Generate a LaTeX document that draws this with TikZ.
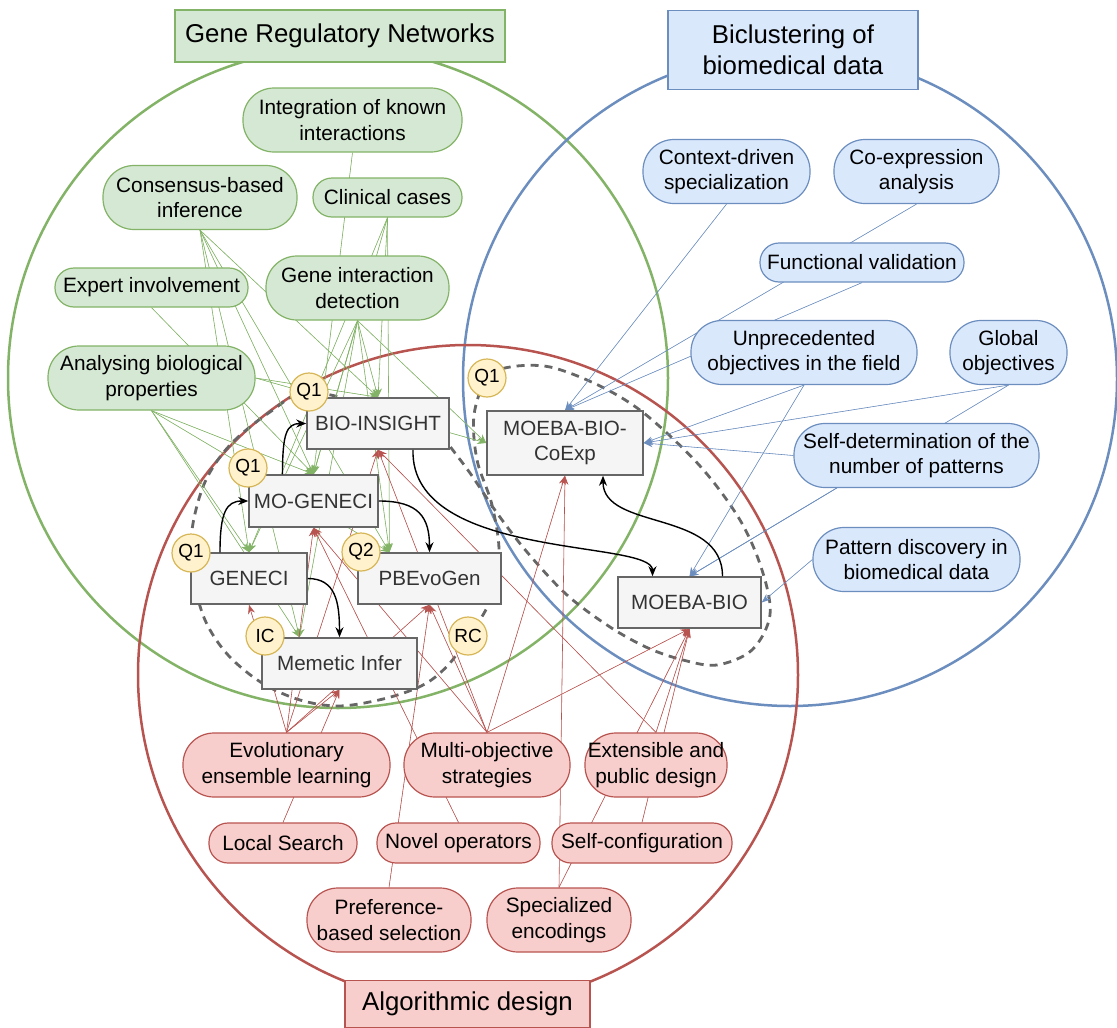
\documentclass[tikz,border=0pt]{standalone}
\usepackage{fontspec}
\setmainfont{Liberation Sans}
\usetikzlibrary{arrows.meta,calc}
\definecolor{gfill}{HTML}{D5E8D4}\definecolor{gline}{HTML}{82B366}
\definecolor{bfill}{HTML}{DAE8FC}\definecolor{bline}{HTML}{6C8EBF}
\definecolor{rfill}{HTML}{F8CECC}\definecolor{rline}{HTML}{B85450}
\definecolor{yfill}{HTML}{FFF2CC}\definecolor{yline}{HTML}{D6B656}
\definecolor{kfill}{HTML}{F5F5F5}\definecolor{kline}{HTML}{666666}\definecolor{ktext}{HTML}{333333}
\pgfdeclarelayer{bg}\pgfdeclarelayer{edges}\pgfsetlayers{bg,edges,main}
\begin{document}
\begin{tikzpicture}[x=1pt,y=-1pt,
 pill/.style={draw, line width=1.2pt, align=center, inner sep=0pt, font=\fontsize{20.8}{25.5}\selectfont, text=black},
 gp/.style={pill, fill=gfill, draw=gline},
 bp/.style={pill, fill=bfill, draw=bline},
 rp/.style={pill, fill=rfill, draw=rline},
 tall/.style={rounded corners=31pt, minimum height=64pt},
 short/.style={rounded corners=19pt, minimum height=40pt},
 box/.style={draw=kline, fill=kfill, line width=1.5pt, text=ktext, inner sep=0pt, font=\fontsize{20.6}{25.5}\selectfont, align=center},
 titlebox/.style={line width=1.5pt, inner sep=0pt, align=center, font=\fontsize{25.8}{31.5}\selectfont},
 qc/.style={circle, draw=yline, fill=yfill, line width=1.2pt, minimum size=38pt, inner sep=0pt, font=\fontsize{19}{22}\selectfont},
 tip/.style={-{Stealth[length=9pt,width=7pt]}},
 ge/.style={tip, draw=gline, fill=gline, line width=0.6pt},
 be/.style={tip, draw=bline, fill=bline, line width=0.6pt},
 re/.style={tip, draw=rline, fill=rline, line width=0.6pt},
 ke/.style={-{Stealth[length=10pt,width=8pt]}, draw=black, line width=1.4pt},
 bigc/.style={line width=2.5pt}
]
\useasboundingbox (0,0) rectangle (1117,1028);

% ---------- big circles ----------
\begin{pgfonlayer}{bg}
\draw[bigc, gline] (338,378) circle[radius=330];
\draw[bigc, bline] (790,379) circle[radius=327];
\draw[bigc, rline] (468,675) circle[radius=330];
\end{pgfonlayer}

% ---------- titles ----------
\node[titlebox, draw=gline, fill=gfill, minimum width=330pt, minimum height=52pt] (TGRN) at (340,36) {Gene Regulatory Networks};
\node[titlebox, draw=bline, fill=bfill, minimum width=250pt, minimum height=79pt] (TBIC) at (793,50) {Biclustering of\\biomedical data};
\node[titlebox, draw=rline, fill=rfill, minimum width=245pt, minimum height=47pt] (TALG) at (467.5,1004) {Algorithmic design};

% ---------- green pills ----------
\node[gp, tall, minimum width=219pt] (INT) at (352.5,120) {Integration of known\\interactions};
\node[gp, tall, minimum width=194pt] (CON) at (200,197.5) {Consensus-based\\inference};
\node[gp, short, minimum width=149pt, minimum height=39pt] (CLI) at (387.5,197.5) {Clinical cases};
\node[gp, short, minimum width=193pt, minimum height=39pt] (EXP) at (151.5,287.5) {Expert involvement};
\node[gp, tall, minimum width=183pt] (GID) at (357.5,288) {Gene interaction\\detection};
\node[gp, tall, minimum width=207pt] (ABP) at (151.5,378) {Analysing biological\\properties};

% ---------- blue pills ----------
\node[bp, tall, minimum width=167pt] (CDS) at (726.5,171.5) {Context-driven\\specialization};
\node[bp, tall, minimum width=165pt] (COA) at (916.5,171.5) {Co-expression\\analysis};
\node[bp, short, minimum width=204pt, minimum height=39pt] (FV) at (862,262.5) {Functional validation};
\node[bp, tall, minimum width=226pt] (UO) at (804,352.5) {Unprecedented\\objectives in the field};
\node[bp, tall, minimum width=117pt] (GO) at (1008.5,352.5) {Global\\objectives};
\node[bp, tall, minimum width=245pt] (SD) at (916.5,455.5) {Self-determination of the\\number of patterns};
\node[bp, tall, minimum width=207pt] (PD) at (916.5,559.5) {Pattern discovery in\\biomedical data};

% ---------- red pills ----------
\node[rp, tall, minimum width=207pt] (EEL) at (286.5,765) {Evolutionary\\ensemble learning};
\node[rp, tall, minimum width=166pt] (MOS) at (487,765) {Multi-objective\\strategies};
\node[rp, tall, minimum width=142pt] (EPD) at (656,765) {Extensible and\\public design};
\node[rp, short, minimum width=148pt] (LS) at (283,843) {Local Search};
\node[rp, short, minimum width=163pt] (NO) at (458.5,843) {Novel operators};
\node[rp, short, minimum width=180pt] (SC) at (642,843) {Self-configuration};
\node[rp, tall, minimum width=164pt] (PBS) at (389,920) {Preference-\\based selection};
\node[rp, tall, minimum width=144pt] (SE) at (559,920) {Specialized\\encodings};

% ---------- algorithm boxes ----------
\node[box, minimum width=142pt, minimum height=51pt] (BI) at (378,423.5) {BIO-INSIGHT};
\node[box, minimum width=129pt, minimum height=52pt] (MG) at (313.5,501) {MO-GENECI};
\node[box, minimum width=116pt, minimum height=51pt] (G) at (249,578.5) {GENECI};
\node[box, minimum width=143pt, minimum height=51pt] (PB) at (429.5,578.5) {PBEvoGen};
\node[box, minimum width=155pt, minimum height=51pt] (MI) at (339.5,663.5) {Memetic Infer};
\node[box, minimum width=156pt, minimum height=64pt] (CE) at (565,443) {MOEBA-BIO-\\CoExp};
\node[box, minimum width=143pt, minimum height=51pt] (MB) at (689.5,602.5) {MOEBA-BIO};

% helper coordinates
\coordinate (PBg) at ([xshift=-40pt]PB.north);
\coordinate (MIg) at ([xshift=-40pt]MI.north);
\coordinate (SDs) at ([xshift=-80pt]SD.south);

% ---------- connectors (behind nodes) ----------
\begin{pgfonlayer}{edges}
\draw[kline, line width=2.8pt, dash pattern=on 8pt off 6pt]
  plot[smooth, tension=0.55] coordinates {(440,440) (380,410) (309,392) (270,412) (230,445) (205,482) (192,530) (193,575) (205,620) (228,655) (262,683) (300,700) (340,706) (387,698) (425,684) (450,663) (468,636) (488,605) (499,555) (492,505) (477,460) (474,415) (487,378) (510,367) (550,367) (600,386) (645,414) (700,466) (740,520) (762,570) (770,615) (752,650) (717,665) (683,660) (648,648) (610,627) (567,595) (527,552) (497,513) (470,473) (445,440)};
\foreach \s/\t in {INT.south/MG.north, CON.south/BI.north, CON.south/MG.north, CON.south/G.north, CON.south/PBg, CON.south/MIg,
  CLI.south/BI.north, CLI.south/MG.north, CLI.south/G.north, CLI.south/PBg, EXP.south/MG.north,
  GID.south/BI.north, GID.south/MG.north, GID.south/G.north, GID.south/PBg, GID.south/MIg, GID.south/CE.west,
  ABP.south/MG.north, ABP.south/G.north, ABP.south/PBg, ABP.south/MIg, ABP.east/BI.north, ABP.east/CE.west}
  \draw[ge] (\s) -- (\t);
\foreach \s/\t in {CDS.south/CE.north, COA.south/CE.north, FV.south/CE.north, UO.south/CE.east, UO.south/MB.north,
  GO.south/CE.east, GO.south/MB.north, SD.west/CE.east, SDs/MB.north, PD.west/MB.east}
  \draw[be] (\s) -- (\t);
\foreach \s/\t in {EEL.north/MI.south, EEL.north/G.south, EEL.north/MG.south, EEL.north/BI.south, EEL.north/PB.south,
  LS.north/MI.south, MOS.north/BI.south, MOS.north/MG.south, MOS.north/PB.south, MOS.north/CE.south, MOS.north/MB.south,
  NO.north/MG.south, PBS.north/PB.south, EPD.north/BI.south, EPD.north/MB.south, SC.north/MB.south,
  SE.north/MB.south, SE.north/CE.south}
  \draw[re] (\s) -- (\t);
\end{pgfonlayer}

% ---------- black flow arrows ----------
\draw[ke] ([xshift=-29pt]G.north) .. controls +(0,-40) and +(-22,0) .. (MG.west);
\draw[ke] ([xshift=-31pt]MG.north) .. controls +(0,-40) and +(-20,0) .. (BI.west);
\draw[ke] (MG.east) .. controls +(40,0) and +(0,-35) .. (PB.north);
\draw[ke] (G.east) .. controls +(28,0) and +(0,-35) .. (MI.north);
\draw[ke] ([xshift=35pt]BI.south) .. controls +(-3,111) and +(0,-37) .. ([xshift=-37pt]MB.north);
\draw[ke] ([xshift=33pt]MB.north) .. controls +(0,-67) and +(0,55) .. ([xshift=38pt]CE.south);

% ---------- quality circles ----------
\node[qc] (Q1a) at (309,392) {Q1};
\node[qc] (Q1b) at (248,468) {Q1};
\node[qc] (Q1c) at (191,553) {Q1};
\node[qc] (Q2) at (361,552) {Q2};
\node[qc] (IC) at (265,636) {IC};
\node[qc] (RC) at (468,636) {RC};
\node[qc] (Q1d) at (487,378) {Q1};
\end{tikzpicture}
\end{document}
